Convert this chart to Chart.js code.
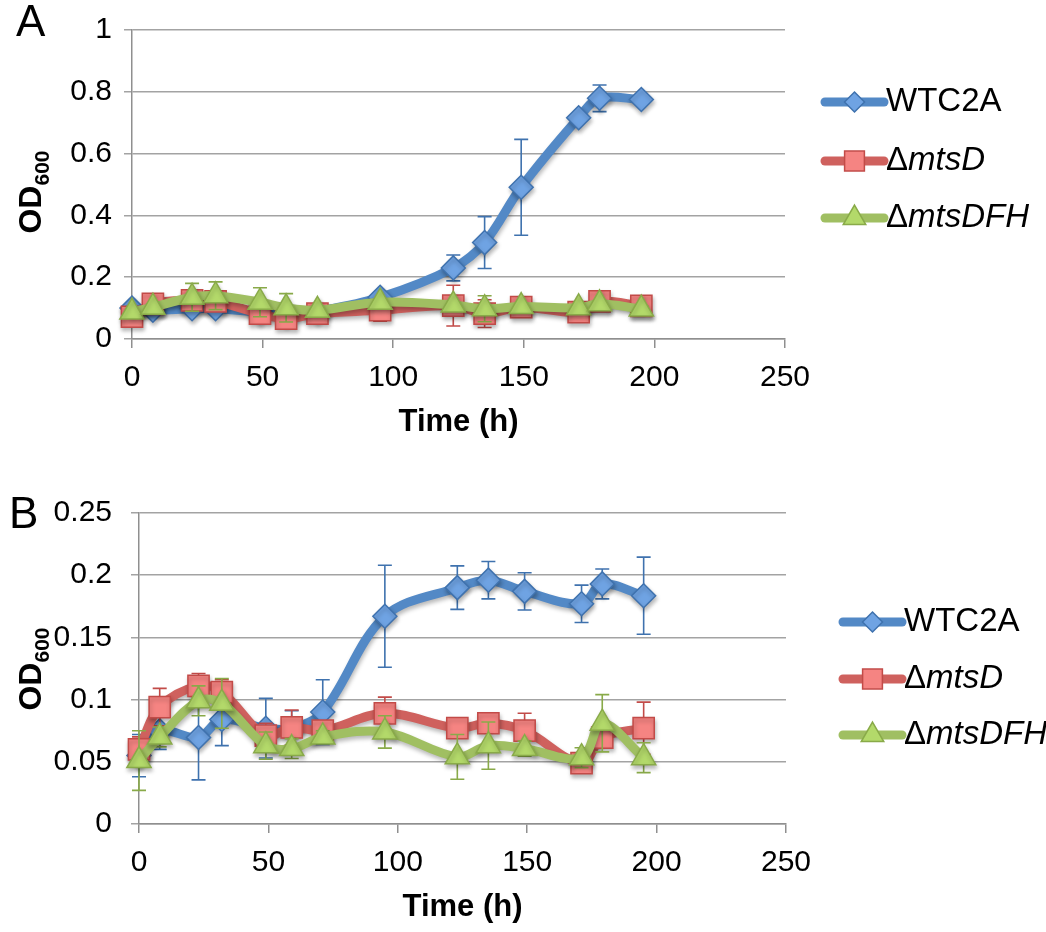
<!DOCTYPE html>
<html>
<head>
<meta charset="utf-8">
<script src="https://cdn.jsdelivr.net/npm/chart.js@4.4.0/dist/chart.umd.min.js"></script>
<style>
  html, body { margin: 0; background: #fff; }
  #wrap { position: relative; width: 1046px; height: 932px; }
  .pane { position: absolute; left: 0; width: 1046px; height: 466px; }
</style>
</head>
<body>
<div id="wrap">
  <div class="pane" style="top:0"><canvas id="chartA" width="1046" height="466"></canvas></div>
  <div class="pane" style="top:466px"><canvas id="chartB" width="1046" height="466"></canvas></div>
</div>
<script>
// ---- data ----
const times = [0, 8, 23, 32, 49, 59, 71, 95, 123, 135, 149, 171, 179, 195];
const seriesNames = ["WTC2A", "ΔmtsD", "ΔmtsDFH"];
const xTicks = [0, 50, 100, 150, 200, 250];

// panel A
const wtA        = [0.100, 0.093, 0.098, 0.098, 0.087, 0.080, 0.090, 0.135, 0.230, 0.312, 0.491, 0.716, 0.779, 0.775];
const wtAErr     = [0.010, 0.010, 0.015, 0.015, 0.010, 0.010, 0.010, 0.010, 0.042, 0.084, 0.155, 0.010, 0.043, 0.005];
const mtsDA      = [0.072, 0.114, 0.125, 0.122, 0.082, 0.066, 0.082, 0.093, 0.108, 0.082, 0.103, 0.087, 0.122, 0.107];
const mtsDAErr   = [0.010, 0.010, 0.020, 0.020, 0.010, 0.030, 0.010, 0.035, 0.066, 0.045, 0.010, 0.010, 0.010, 0.010];
const mtsDFHA    = [0.087, 0.103, 0.135, 0.140, 0.119, 0.101, 0.093, 0.119, 0.110, 0.098, 0.105, 0.101, 0.114, 0.097];
const mtsDFHAErr = [0.010, 0.010, 0.045, 0.045, 0.047, 0.046, 0.010, 0.010, 0.010, 0.042, 0.010, 0.010, 0.010, 0.010];

// panel B
const wtB        = [0.055, 0.075, 0.0695, 0.084, 0.077, 0.077, 0.090, 0.167, 0.190, 0.196, 0.187, 0.177, 0.193, 0.1835];
const wtBErr     = [0.017, 0.015, 0.034, 0.021, 0.024, 0.014, 0.026, 0.041, 0.0175, 0.015, 0.015, 0.015, 0.012, 0.031];
const mtsDB      = [0.060, 0.094, 0.111, 0.106, 0.071, 0.0776, 0.075, 0.089, 0.077, 0.081, 0.075, 0.049, 0.0695, 0.077];
const mtsDBErr   = [0.010, 0.015, 0.010, 0.010, 0.010, 0.014, 0.008, 0.013, 0.008, 0.005, 0.014, 0.005, 0.008, 0.021];
const mtsDFHB    = [0.051, 0.070, 0.099, 0.097, 0.063, 0.0606, 0.070, 0.074, 0.054, 0.063, 0.0606, 0.0533, 0.081, 0.0533];
const mtsDFHBErr = [0.024, 0.008, 0.012, 0.020, 0.011, 0.008, 0.005, 0.013, 0.018, 0.019, 0.006, 0.008, 0.023, 0.012];

const FONT = "'Liberation Sans', Arial, Helvetica, sans-serif";

// series look: line, marker fill, marker edge
const looks = [
  { line: '#5389C6', fill: '#6FA3E3', edge: '#3F72AE', style: 'rectRot',  r: 12, legR: 10 },
  { line: '#CF615E', fill: '#F58482', edge: '#C24B48', style: 'rect',     r: 15, legR: 14 },
  { line: '#A0BF62', fill: '#B3D96A', edge: '#89AA49', style: 'triangle', r: 14, legR: 13 },
];

const pts = (ys) => times.map((t, i) => ({ x: t, y: ys[i] }));

// ---- error bars + marker shadow per dataset ----
const errorBars = {
  id: 'errorBars',
  beforeDatasetDraw(chart, args) {
    const ds = chart.data.datasets[args.index];
    const xs = chart.scales.x, ys = chart.scales.y, ctx = chart.ctx;
    ctx.save();
    ctx.strokeStyle = ds.errColor;
    ctx.lineWidth = 1.6;
    ds.data.forEach((p, i) => {
      const e = ds.err[i];
      const px = xs.getPixelForValue(p.x);
      const t = ys.getPixelForValue(p.y + e), b = ys.getPixelForValue(p.y - e);
      ctx.beginPath();
      ctx.moveTo(px, t); ctx.lineTo(px, b);
      ctx.moveTo(px - 7, t); ctx.lineTo(px + 7, t);
      ctx.moveTo(px - 7, b); ctx.lineTo(px + 7, b);
      ctx.stroke();
    });
    ctx.restore();
    ctx.shadowColor = 'rgba(0,0,0,0.28)';
    ctx.shadowBlur = 4;
    ctx.shadowOffsetX = 1;
    ctx.shadowOffsetY = 3;
  },
  afterDatasetDraw(chart) {
    const ctx = chart.ctx;
    ctx.shadowColor = 'rgba(0,0,0,0)';
    ctx.shadowBlur = 0; ctx.shadowOffsetX = 0; ctx.shadowOffsetY = 0;
  }
};

// ---- panel letter, axis titles, legend ----
const decor = {
  id: 'decor',
  afterDraw(chart, args, o) {
    const ctx = chart.ctx, ca = chart.chartArea;
    ctx.save();
    ctx.fillStyle = '#000';
    ctx.textBaseline = 'middle';

    // panel letter
    ctx.font = `44px ${FONT}`;
    ctx.textAlign = 'left';
    ctx.fillText(o.letter, o.letterX, o.letterY);

    // x title
    ctx.font = `bold 31px ${FONT}`;
    ctx.textAlign = 'center';
    ctx.fillText('Time (h)', (ca.left + ca.right) / 2, o.timeY);

    // y title OD600 (rotated, subscript)
    ctx.save();
    ctx.translate(o.odX, o.odY);
    ctx.rotate(-Math.PI / 2);
    ctx.textAlign = 'left';
    ctx.textBaseline = 'alphabetic';
    ctx.font = `bold 32px ${FONT}`;
    const w1 = ctx.measureText('OD').width;
    ctx.font = `bold 21px ${FONT}`;
    const w2 = ctx.measureText('600').width;
    const x0 = -(w1 + w2) / 2;
    ctx.font = `bold 32px ${FONT}`;
    ctx.fillText('OD', x0, 11);
    ctx.font = `bold 21px ${FONT}`;
    ctx.fillText('600', x0 + w1, 19);
    ctx.restore();

    // legend
    chart.data.datasets.forEach((ds, i) => {
      const lk = looks[i], y = o.legY[i];
      ctx.save();
      ctx.strokeStyle = lk.line;
      ctx.lineWidth = 9;
      ctx.lineCap = 'round';
      ctx.beginPath();
      ctx.moveTo(o.legX1, y); ctx.lineTo(o.legX2, y);
      ctx.stroke();
      ctx.fillStyle = lk.fill;
      ctx.strokeStyle = lk.edge;
      ctx.lineWidth = 1.5;
      ctx.lineCap = 'butt';
      Chart.helpers.drawPoint(ctx, { pointStyle: lk.style, radius: lk.legR, rotation: 0, borderWidth: 1.5 },
        (o.legX1 + o.legX2) / 2, y);
      ctx.restore();

      const name = seriesNames[i];
      ctx.textAlign = 'left';
      ctx.textBaseline = 'middle';
      let tx = o.legX2 + 2;
      if (name.startsWith('Δ')) {
        ctx.font = `33px ${FONT}`;
        ctx.fillText('Δ', tx, y);
        tx += ctx.measureText('Δ').width;
        ctx.font = `italic 33px ${FONT}`;
        ctx.fillText(name.slice(1), tx, y);
      } else {
        ctx.font = `33px ${FONT}`;
        ctx.fillText(name, tx, y);
      }
    });
    ctx.restore();
  }
};

function makeChart(id, series, errs, yMax, yStep, L) {
  const datasets = series.map((ys, i) => ({
    label: seriesNames[i],
    data: pts(ys),
    err: errs[i],
    errColor: looks[i].edge,
    borderColor: looks[i].line,
    borderWidth: 9,
    borderCapStyle: 'round',
    borderJoinStyle: 'round',
    tension: 0.35,
    pointStyle: looks[i].style,
    pointRadius: looks[i].r,
    pointBackgroundColor: looks[i].fill,
    pointBorderColor: looks[i].edge,
    pointBorderWidth: 1.5,
    clip: false,
    order: 3 - i,
  }));

  return new Chart(document.getElementById(id), {
    type: 'line',
    data: { datasets },
    plugins: [errorBars, decor],
    options: {
      responsive: false,
      animation: false,
      events: [],
      layout: { padding: { left: 0, top: L.top, right: 1046 - L.right, bottom: 0 } },
      plugins: {
        legend: { display: false },
        tooltip: { enabled: false },
        decor: L.decor,
      },
      scales: {
        x: {
          type: 'linear', min: 0, max: 250,
          afterBuildTicks: (s) => { s.ticks = xTicks.map(v => ({ value: v })); },
          ticks: { color: '#000', font: { size: 30, family: FONT }, padding: L.xPad, maxRotation: 0 },
          grid: { drawOnChartArea: false, drawTicks: true, tickLength: 9, color: '#8f8f8f', lineWidth: 1.5 },
          border: { color: '#8f8f8f', width: 1.5 },
          afterFit: (s) => { s.height = 466 - L.bottom; },
        },
        y: {
          min: 0, max: yMax,
          ticks: {
            stepSize: yStep, color: '#000', font: { size: 30, family: FONT }, padding: L.yPad,
            callback: (v) => String(+v.toFixed(3)),
          },
          grid: { color: '#a3a3a3', lineWidth: 1.5, drawTicks: true, tickLength: 8 },
          border: { color: '#8f8f8f', width: 1.5 },
          afterFit: (s) => { s.width = L.left; },
        },
      },
    },
  });
}

makeChart('chartA', [wtA, mtsDA, mtsDFHA], [wtAErr, mtsDAErr, mtsDFHAErr], 1, 0.2, {
  left: 132, right: 785, top: 23, bottom: 339, xPad: 12, yPad: 12,
  decor: { letter: 'A', letterX: 16, letterY: 24, timeY: 422, odX: 30, odY: 192,
           legX1: 825, legX2: 884, legY: [102, 161, 218] },
});

makeChart('chartB', [wtB, mtsDB, mtsDFHB], [wtBErr, mtsDBErr, mtsDFHBErr], 0.25, 0.05, {
  left: 139, right: 786, top: 47, bottom: 358, xPad: 12, yPad: 19,
  decor: { letter: 'B', letterX: 9, letterY: 50, timeY: 441, odX: 30, odY: 203,
           legX1: 843, legX2: 902, legY: [156, 213, 269] },
});
</script>
</body>
</html>
